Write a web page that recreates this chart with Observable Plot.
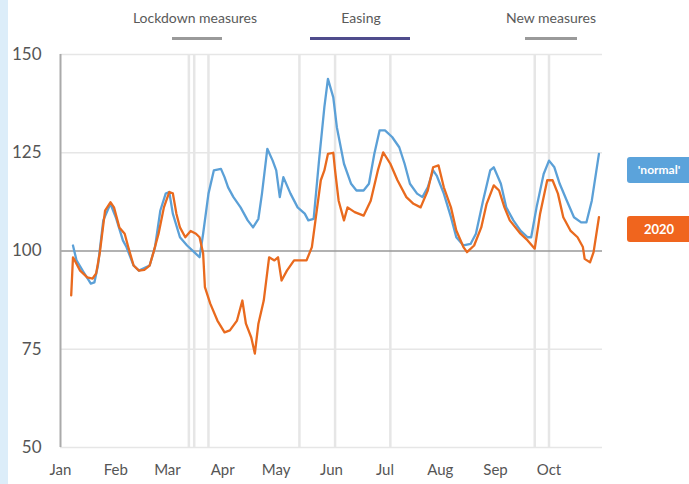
<!DOCTYPE html>
<html>
<head>
<meta charset="utf-8">
<script src="https://cdn.jsdelivr.net/npm/d3@7"></script>
<script src="https://cdn.jsdelivr.net/npm/@observablehq/plot@0.6"></script>
<style>
html,body{margin:0;padding:0;background:#fff;}
body{width:689px;height:484px;overflow:hidden;position:relative;font-family:Lato,"Open Sans",sans-serif;}
#strip{position:absolute;left:0;top:0;width:8px;height:484px;background:#dcedf9;}
#top{position:relative;height:44px;}
.lg{position:absolute;top:9px;font-size:14px;color:#5a5a5a;transform:translateX(-50%);white-space:nowrap;}
.bar{position:absolute;top:37px;height:3px;}
.box{position:absolute;left:627px;width:64px;height:26px;border-radius:3px;color:#fff;font-weight:bold;font-size:12px;line-height:26px;text-align:center;}
#chart{position:relative;}
</style>
</head>
<body>
<div id="strip"></div>
<div id="top">
  <div class="lg" style="left:195px">Lockdown measures</div>
  <div class="bar" style="left:172px;width:50px;background:#9a9a9a"></div>
  <div class="lg" style="left:361px">Easing</div>
  <div class="bar" style="left:310px;width:100px;background:#4f4c8c"></div>
  <div class="lg" style="left:551px">New measures</div>
  <div class="bar" style="left:525px;width:52px;background:#9a9a9a"></div>
</div>
<div id="chart"></div>
<div class="box" style="top:157px;background:#5ba3db">'normal'</div>
<div class="box" style="top:216px;background:#f0651e;font-size:13px">2020</div>
<script>
// ---- data ----
const dates2020 = ["2020-01-07","2020-01-08","2020-01-09","2020-01-12","2020-01-16","2020-01-19","2020-01-21","2020-01-23","2020-01-26","2020-01-29","2020-01-31",
"2020-02-03","2020-02-06","2020-02-08","2020-02-11","2020-02-14","2020-02-17","2020-02-20","2020-02-22","2020-02-25","2020-02-28",
"2020-03-02","2020-03-04","2020-03-06","2020-03-08","2020-03-11","2020-03-14","2020-03-17","2020-03-19","2020-03-21","2020-03-22","2020-03-25","2020-03-29",
"2020-04-02","2020-04-05","2020-04-09","2020-04-12","2020-04-14","2020-04-17","2020-04-19","2020-04-21","2020-04-24","2020-04-27","2020-04-30",
"2020-05-02","2020-05-04","2020-05-07","2020-05-11","2020-05-15","2020-05-18","2020-05-21","2020-05-23","2020-05-26","2020-05-28","2020-05-30",
"2020-06-02","2020-06-03","2020-06-05","2020-06-08","2020-06-10","2020-06-14","2020-06-19","2020-06-23","2020-06-27","2020-06-30",
"2020-07-04","2020-07-08","2020-07-13","2020-07-17","2020-07-21","2020-07-25","2020-07-28","2020-07-31",
"2020-08-03","2020-08-07","2020-08-10","2020-08-14","2020-08-16","2020-08-20","2020-08-24","2020-08-27","2020-08-31",
"2020-09-03","2020-09-06","2020-09-09","2020-09-15","2020-09-19","2020-09-23","2020-09-26","2020-09-30",
"2020-10-03","2020-10-06","2020-10-09","2020-10-13","2020-10-17","2020-10-20","2020-10-21","2020-10-24","2020-10-26","2020-10-29"];
const values2020 = [88.7,98.4,97.6,95,93.3,93,94.3,99.4,110.3,112.4,111.1,
106,104.4,101,96.3,95,95.2,96.3,99.4,104.4,111.1,
115,114.7,109.5,106,103.5,105.1,104.4,103.5,99.4,90.8,86.6,82.3,
79.3,79.8,82.3,87.4,81.5,78,73.9,81.5,87.4,98.4,97.6,
98.4,92.5,95,97.6,97.6,97.6,101,107.8,118,120.5,124.7,
125,120.5,112.8,107.8,111.1,109.9,109,112.8,120.5,125.1,
122.2,118,113.7,112,111.1,115.4,121.3,121.8,
116.2,111.1,105.2,101,99.7,101.4,106,112,116.7,
115.4,111.1,107.8,104.4,102.7,100.6,109.5,118,
118,114.6,108.6,105.2,103.5,101,98,97.1,99.7,108.6];

const datesNormal = ["2020-01-08","2020-01-10","2020-01-14","2020-01-18","2020-01-20","2020-01-22","2020-01-25","2020-01-29",
"2020-02-01","2020-02-05","2020-02-07","2020-02-11","2020-02-14","2020-02-20","2020-02-23","2020-02-26","2020-02-29",
"2020-03-02","2020-03-04","2020-03-08","2020-03-12","2020-03-16","2020-03-19","2020-03-21","2020-03-24","2020-03-27","2020-03-31",
"2020-04-02","2020-04-04","2020-04-07","2020-04-11","2020-04-15","2020-04-18","2020-04-21","2020-04-23","2020-04-26","2020-04-29",
"2020-05-01","2020-05-03","2020-05-05","2020-05-09","2020-05-13","2020-05-17","2020-05-19","2020-05-22","2020-05-25","2020-05-28","2020-05-30",
"2020-06-02","2020-06-04","2020-06-08","2020-06-12","2020-06-15","2020-06-19","2020-06-22","2020-06-25","2020-06-28",
"2020-07-01","2020-07-05","2020-07-09","2020-07-12","2020-07-15","2020-07-19","2020-07-22","2020-07-25","2020-07-28","2020-07-30",
"2020-08-03","2020-08-07","2020-08-10","2020-08-14","2020-08-18","2020-08-21","2020-08-25","2020-08-29","2020-08-31",
"2020-09-04","2020-09-07","2020-09-11","2020-09-15","2020-09-19","2020-09-21","2020-09-24","2020-09-28",
"2020-10-01","2020-10-04","2020-10-07","2020-10-11","2020-10-15","2020-10-19","2020-10-22","2020-10-25","2020-10-29"];
const valuesNormal = [101.4,97.6,94.6,91.7,92,96.3,107.8,112,
108.6,102.7,101,96.3,95,96.3,101,110.3,114.6,
115,109.5,103.5,101.4,99.7,98.4,104.4,114.6,120.5,120.9,
118.8,116.2,113.7,111.1,107.8,106,108.2,114.6,126,123,
120.5,113.7,118.8,114.6,111.1,109.5,107.8,108.2,123,136.6,143.8,
139.1,131.5,122.2,117.1,115.4,115.4,117.1,124.7,130.7,
130.7,129,126.4,122.2,117.1,114.6,113.7,116.2,120.5,119.2,
114.6,108.6,103.5,101.4,101.8,104.4,112.8,120.5,121.3,
117.1,111.1,107.8,105.2,103.5,103.5,111.1,119.6,
123,121.3,117.1,112.8,108.6,107.3,107.3,112.8,124.7];

const eventDates = ["2020-03-13","2020-03-16","2020-03-24","2020-05-14","2020-06-03","2020-07-04","2020-09-23","2020-10-01"];
const yTicks = [50,75,100,125,150];
const monthTicks = ["2020-01-01","2020-02-01","2020-03-01","2020-04-01","2020-05-01","2020-06-01","2020-07-01","2020-08-01","2020-09-01","2020-10-01"];
const monthLabels = ["Jan","Feb","Mar","Apr","May","Jun","Jul","Aug","Sep","Oct"];

// ---- build tables ----
const parse = s => new Date(s + "T00:00:00Z");
const s2020 = dates2020.map((d,i) => ({date: parse(d), value: values2020[i]}));
const sNormal = datesNormal.map((d,i) => ({date: parse(d), value: valuesNormal[i]}));
const xStart = parse("2020-01-01"), xEnd = parse("2020-10-31");

const chart = Plot.plot({
  width: 689, height: 440,
  marginLeft: 60, marginRight: 87, marginTop: 10, marginBottom: 37,
  x: {type: "utc", domain: [xStart, xEnd]},
  y: {domain: [50, 150]},
  style: {fontFamily: "Lato, 'Open Sans', sans-serif", color: "#444", background: "transparent", overflow: "visible"},
  marks: [
    Plot.ruleY(yTicks.filter(d => d !== 100), {stroke: "#e6e6e6", strokeWidth: 1.5}),
    Plot.ruleX(eventDates.map(parse), {stroke: "#e6e6e6", strokeWidth: 2.5}),
    Plot.ruleY([100], {stroke: "#999", strokeWidth: 1.5}),
    Plot.ruleX([xStart], {stroke: "#aaa", strokeWidth: 2}),
    Plot.line(sNormal, {x: "date", y: "value", stroke: "#5ba0d7", strokeWidth: 2.3}),
    Plot.line(s2020, {x: "date", y: "value", stroke: "#e96a1e", strokeWidth: 2.3}),
    Plot.axisY(yTicks, {tickSize: 0, tickPadding: 19, fontSize: 17, label: null, color: "#555"}),
    Plot.axisX(monthTicks.map(parse), {tickSize: 0, tickPadding: 17, fontSize: 15, label: null,
      tickFormat: d => monthLabels[d.getUTCMonth()], color: "#555"})
  ]
});
document.getElementById("chart").appendChild(chart);
</script>
</body>
</html>
